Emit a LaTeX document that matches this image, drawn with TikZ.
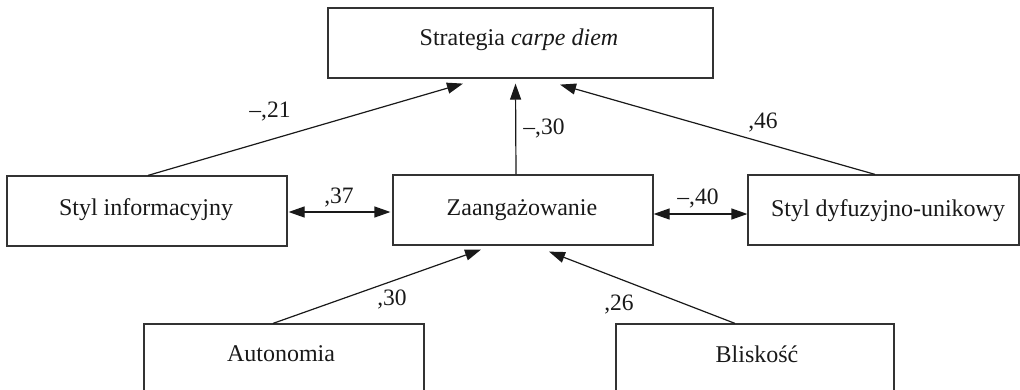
\documentclass[tikz,border=0pt]{standalone}
\usepackage{fontspec}
\setmainfont{Liberation Serif}
\usetikzlibrary{arrows.meta}
\begin{document}
\begin{tikzpicture}[x=1pt,y=-1pt,
 boxnode/.style={draw=black!80, line width=1.2pt, rectangle, inner sep=0pt, minimum width=#1, minimum height=70pt},
 txt/.style={anchor=base, inner sep=0pt, font=\fontsize{24}{28}\selectfont, text=black!90},
 lab/.style={anchor=base, inner sep=0pt, font=\fontsize{23.5}{28}\selectfont, text=black!90},
 conn/.style={line width=1.2pt, draw=black!90, -{Triangle[length=16pt,width=11pt]}},
 dconn/.style={line width=1.2pt, draw=black!90, {Triangle[length=16pt,width=11pt]}-{Triangle[length=16pt,width=11pt]}}]
\useasboundingbox (0,0) rectangle (1020,389);
\clip (0,0) rectangle (1020,389);
% boxes
\node[boxnode=385] (top) at (520.5,43) {};
\node[boxnode=280] (left) at (147,211) {};
\node[boxnode=260] (mid) at (523,210) {};
\node[boxnode=271] (right) at (883.5,210) {};
\node[boxnode=280] (auto) at (284,359) {};
\node[boxnode=278] (bl) at (755,359) {};
% box texts
\node[txt] (topt) at (519,45) {Strategia \textit{carpe diem}};
\node[txt] (leftt) at (146,215) {Styl informacyjny};
\node[txt] (midt) at (522,215) {Zaangażowanie};
\node[txt] (rightt) at (888,216) {Styl dyfuzyjno-unikowy};
\node[txt] (autot) at (281,361) {Autonomia};
\node[txt] (blt) at (757,362) {Bliskość};
% connectors
\draw[conn] ([xshift=1pt]left.north) -- ([shift={(-57.5,5)}]top.south);
\draw[conn] ([xshift=-7pt]mid.north) -- ([shift={(-5,5)}]top.south);
\draw[conn] ([xshift=-8.5pt]right.north) -- ([shift={(39.5,6)}]top.south);
\draw[dconn] ([shift={(1,1)}]left.east) -- ([shift={(-2,2)}]mid.west);
\draw[dconn] ([shift={(0,4)}]mid.east) -- ([shift={(0,4)}]right.west);
\draw[conn] ([xshift=-11pt]auto.north) -- ([shift={(-42,4)}]mid.south);
\draw[conn] ([xshift=-20pt]bl.north) -- ([shift={(26,6)}]mid.south);
% labels
\node[lab] (l21) at (270,117) {–,21};
\node[lab] (l30a) at (544,134) {–,30};
\node[lab] (l46) at (763,128) {,46};
\node[lab] (l37) at (339,203) {,37};
\node[lab] (l40) at (698,204) {–,40};
\node[lab] (l30b) at (392,305) {,30};
\node[lab] (l26) at (619,310) {,26};
\end{tikzpicture}
\end{document}
